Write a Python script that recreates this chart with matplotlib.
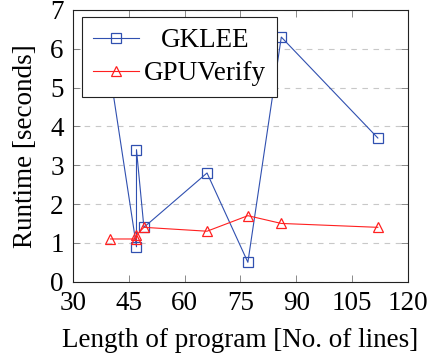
import matplotlib
matplotlib.use("Agg")
import matplotlib.pyplot as plt

plt.rcParams['font.family'] = ['Liberation Serif', 'DejaVu Serif']

# Data
gklee_x = [40, 47, 47, 49, 66, 77, 86, 112]
gklee_y = [5.3, 0.9, 3.4, 1.4, 2.8, 0.5, 6.3, 3.7]
gpuv_x = [40, 47, 47, 49, 66, 77, 86, 112]
gpuv_y = [1.1, 1.1, 1.2, 1.4, 1.3, 1.7, 1.5, 1.4]
x_ticks = [30, 45, 60, 75, 90, 105, 120]
y_ticks = [0, 1, 2, 3, 4, 5, 6, 7]

fig = plt.figure(figsize=(4.29, 3.53), dpi=100)
ax = fig.add_axes([0.171, 0.202, 0.779, 0.770])

blue = '#3050b0'
red = '#ff2020'
ax.plot(gklee_x, gklee_y, color=blue, lw=0.8, marker='s', ms=7.5,
        mfc='none', mec=blue, mew=0.9, label='GKLEE', zorder=3)
ax.plot(gpuv_x, gpuv_y, color=red, lw=0.8, marker='^', ms=7.5,
        mfc='none', mec=red, mew=0.9, label='GPUVerify', zorder=3)

ax.set_xlim(30, 120)
ax.set_ylim(0, 7)
ax.set_xticks(x_ticks)
ax.set_yticks(y_ticks)
ax.yaxis.grid(True, ls=(0, (5, 5)), color='#c8c8c8', lw=0.8)
ax.set_axisbelow(True)
ax.tick_params(direction='in', top=True, right=True, length=5, width=0.6,
               color='#777777', labelsize=19.5)
ax.tick_params(axis='x', pad=7)
ax.tick_params(axis='y', pad=7)
for s in ax.spines.values():
    s.set_linewidth(0.8)
    s.set_color('#222222')

ax.set_xlabel('Length of program [No. of lines]', fontsize=19.5, labelpad=8)
ax.set_ylabel('Runtime [seconds]', fontsize=19.5, labelpad=9)

leg = ax.legend(loc='upper left', bbox_to_anchor=(0.026, 0.972), borderaxespad=0,
                fontsize=19.5, frameon=True, fancybox=False, framealpha=1,
                edgecolor='#222222', handlelength=1.7, handletextpad=0.2,
                borderpad=0.4, labelspacing=0.3)
leg.get_frame().set_linewidth(0.8)
leg.set_zorder(5)

# centre legend entries within their column (as in the reference)
fig.canvas.draw()
r = fig.canvas.get_renderer()
texts = leg.get_texts()
widths = [t.get_window_extent(r).width for t in texts]
wmax = max(widths)
for t, w in zip(texts, widths):
    t.set_x((wmax - w) / 2.0)

fig.savefig('out.png', dpi=100)
